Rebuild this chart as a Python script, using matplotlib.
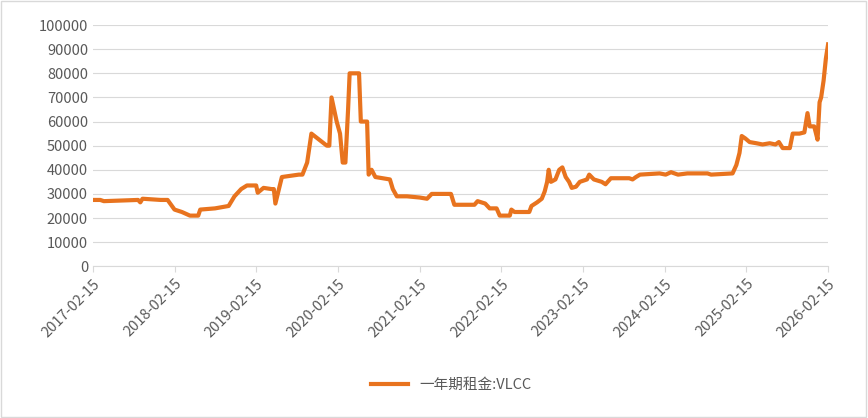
import matplotlib
matplotlib.use("Agg")
import matplotlib.pyplot as plt
import pandas as pd

dates = ["2017-02-15","2017-03-20","2017-04-05","2017-09-05","2017-09-15","2017-09-25","2017-12-15",
 "2018-01-15","2018-02-15","2018-03-20","2018-04-25","2018-06-01","2018-06-10","2018-08-15","2018-10-15",
 "2018-11-10","2018-12-10","2019-01-05","2019-02-15","2019-02-22","2019-03-20","2019-04-25","2019-05-05",
 "2019-05-12","2019-06-10","2019-08-25","2019-09-10","2019-10-01","2019-10-20","2019-12-28","2020-01-08",
 "2020-01-18","2020-02-10","2020-02-25","2020-03-08","2020-03-20","2020-04-01","2020-04-08","2020-05-20",
 "2020-05-28","2020-06-25","2020-07-02","2020-07-15","2020-08-01","2020-10-05","2020-10-18","2020-11-05",
 "2020-12-20","2021-02-15","2021-03-20","2021-04-10","2021-07-05","2021-07-20","2021-10-18","2021-11-01",
 "2021-12-05","2021-12-25","2022-01-25","2022-02-08","2022-03-25","2022-04-01","2022-04-15","2022-06-20",
 "2022-06-30","2022-07-25","2022-08-15","2022-08-28","2022-09-08","2022-09-15","2022-09-25","2022-10-15",
 "2022-11-01","2022-11-15","2022-11-30","2022-12-15","2022-12-27","2023-01-15","2023-02-01","2023-03-05",
 "2023-03-15","2023-04-05","2023-05-10","2023-05-27","2023-06-20","2023-09-10","2023-09-25","2023-10-10",
 "2023-10-28","2024-01-24","2024-02-20","2024-03-15","2024-04-15","2024-05-27","2024-08-25","2024-09-10",
 "2024-12-15","2025-01-01","2025-01-15","2025-01-25","2025-02-10","2025-03-01","2025-04-01","2025-04-28",
 "2025-05-30","2025-06-25","2025-07-10","2025-07-27","2025-08-28","2025-09-10","2025-10-10","2025-11-01",
 "2025-11-15","2025-11-25","2025-12-15","2025-12-30","2026-01-08","2026-01-15","2026-01-26","2026-02-05",
 "2026-02-15"]
values = [27500,27500,27000,27500,26500,28000,27500,
 27500,23500,22500,21000,21000,23500,24000,25000,
 29000,32000,33500,33500,30500,32500,32000,32000,
 26000,37000,38000,38000,43000,55000,50000,50000,
 70000,60000,55000,43000,43000,65000,80000,80000,
 60000,60000,38000,40000,37000,36000,32000,29000,
 29000,28500,28000,30000,30000,25500,25500,27000,
 26000,24000,24000,21000,21000,23500,22500,22500,
 25000,26500,28000,31000,35000,40000,35000,36000,
 40000,41000,37000,35000,32500,33000,35000,36000,
 38000,36000,35000,34000,36500,36500,36000,37000,
 38000,38500,38000,39000,38000,38500,38500,38000,
 38500,42000,47000,54000,53000,51500,51000,50500,
 51000,50500,51500,49000,49000,55000,55000,55500,
 63500,58000,58000,52500,68000,70000,77000,86000,
 92000]
series_name = "一年期租金:VLCC"
tick_labels = [f"{y}-02-15" for y in range(2017, 2027)]

plt.rcParams['font.family'] = ['Noto Sans CJK SC', 'DejaVu Sans']
fig = plt.figure(figsize=(8.68, 4.18), dpi=100)
fig.patches.append(plt.Rectangle((0.001, 0.002), 0.997, 0.995, transform=fig.transFigure,
                                 fill=False, edgecolor="#D9D9D9", lw=1))
ax = fig.add_axes([0.107, 0.363, 0.847, 0.577])
d = pd.to_datetime(dates)
ax.plot(d, values, color="#E8731E", lw=3, label=series_name)
ticks = pd.to_datetime(tick_labels)
ax.set_xticks(ticks)
ax.set_xticklabels(tick_labels, rotation=45, ha="right", rotation_mode="anchor", fontsize=10.5, color="#595959")
ax.set_xlim(ticks[0], ticks[-1])
ax.set_ylim(0, 100000)
ax.set_yticks(range(0, 100001, 10000))
ax.tick_params(axis="y", length=0, labelsize=10.5, labelcolor="#595959")
ax.tick_params(axis="x", length=4, color="#D9D9D9")
ax.grid(axis="y", color="#D9D9D9", lw=0.8)
for s in ["top", "right", "left"]:
    ax.spines[s].set_visible(False)
ax.spines["bottom"].set_color("#D9D9D9")
fig.legend(loc="lower center", bbox_to_anchor=(0.52, 0.03), frameon=False, fontsize=10.5, handlelength=2.5, labelcolor="#595959")
fig.savefig("out.png")
